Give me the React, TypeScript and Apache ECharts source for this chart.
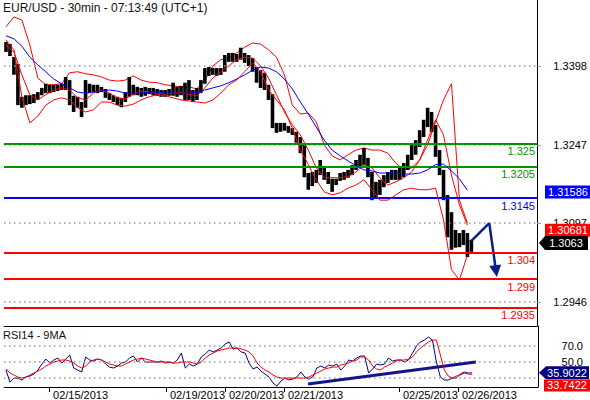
import React, { useEffect, useRef } from "react";
import * as echarts from "echarts";

// ---- price bars (30-min bars, grouped) ----
const opens = [1.3440,1.3433,1.3415,1.3398,1.3327,1.3333,1.3337,1.3333,1.3339,1.3342,
1.3348,1.3356,1.3354,1.3356,1.3358,1.3360,1.3364,1.3333,1.3325,1.3327,
1.3318,1.3356,1.3354,1.3356,1.3352,1.3354,1.3342,1.3339,1.3335,1.3333,
1.3331,1.3342,1.3356,1.3352,1.3350,1.3348,1.3348,1.3350,1.3348,1.3346,
1.3344,1.3346,1.3348,1.3350,1.3348,1.3352,1.3342,1.3341,1.3337,1.3346,
1.3364,1.3387,1.3388,1.3387,1.3388,1.3387,1.3413,1.3415,1.3413,1.3415,
1.3419,1.3413,1.3406,1.3394,1.3375,1.3367,1.3362,1.3342,1.3285,1.3279,
1.3281,1.3279,1.3275,1.3270,1.3256,1.3243,1.3189,1.3174,1.3184,1.3189,
1.3207,1.3195,1.3180,1.3170,1.3180,1.3186,1.3187,1.3191,1.3199,1.3210,
1.3218,1.3222,1.3195,1.3164,1.3161,1.3168,1.3180,1.3186,1.3187,1.3189,
1.3195,1.3203,1.3218,1.3237,1.3247,1.3266,1.3285,1.3304,1.3285,1.3237,
1.3199,1.3151,1.3084,1.3065,1.3073,1.3069,1.3076,1.3046];
const closes = [1.3433,1.3429,1.3398,1.3327,1.3333,1.3337,1.3333,1.3339,1.3342,1.3348,
1.3356,1.3354,1.3356,1.3358,1.3360,1.3364,1.3333,1.3325,1.3327,1.3318,
1.3356,1.3354,1.3356,1.3352,1.3354,1.3342,1.3339,1.3335,1.3333,1.3331,
1.3342,1.3356,1.3352,1.3350,1.3348,1.3348,1.3350,1.3348,1.3346,1.3344,
1.3346,1.3348,1.3350,1.3348,1.3352,1.3342,1.3341,1.3337,1.3346,1.3364,
1.3387,1.3388,1.3387,1.3388,1.3387,1.3413,1.3415,1.3413,1.3415,1.3419,
1.3413,1.3406,1.3394,1.3375,1.3367,1.3362,1.3342,1.3285,1.3279,1.3281,
1.3279,1.3275,1.3270,1.3256,1.3243,1.3189,1.3174,1.3184,1.3189,1.3207,
1.3195,1.3180,1.3170,1.3180,1.3186,1.3187,1.3191,1.3199,1.3210,1.3218,
1.3222,1.3195,1.3164,1.3161,1.3168,1.3180,1.3186,1.3187,1.3189,1.3195,
1.3203,1.3218,1.3237,1.3247,1.3266,1.3285,1.3304,1.3285,1.3237,1.3199,
1.3151,1.3084,1.3065,1.3073,1.3069,1.3076,1.3046,1.3063];
const lows = [1.3425,1.3417,1.3381,1.3323,1.3318,1.3323,1.3325,1.3327,1.3333,1.3342,
1.3346,1.3346,1.3348,1.3350,1.3352,1.3352,1.3323,1.3310,1.3318,1.3300,
1.3318,1.3346,1.3348,1.3346,1.3348,1.3337,1.3333,1.3329,1.3323,1.3319,
1.3329,1.3339,1.3342,1.3342,1.3339,1.3341,1.3344,1.3342,1.3341,1.3339,
1.3339,1.3341,1.3341,1.3339,1.3342,1.3333,1.3333,1.3329,1.3333,1.3346,
1.3364,1.3379,1.3381,1.3379,1.3381,1.3387,1.3406,1.3406,1.3406,1.3410,
1.3404,1.3398,1.3387,1.3366,1.3356,1.3352,1.3333,1.3279,1.3270,1.3272,
1.3274,1.3270,1.3266,1.3251,1.3231,1.3185,1.3161,1.3168,1.3174,1.3189,
1.3180,1.3172,1.3157,1.3170,1.3178,1.3180,1.3184,1.3189,1.3199,1.3205,
1.3208,1.3185,1.3141,1.3147,1.3151,1.3166,1.3174,1.3180,1.3180,1.3180,
1.3185,1.3199,1.3218,1.3228,1.3243,1.3262,1.3281,1.3272,1.3224,1.3189,
1.3141,1.3070,1.3046,1.3050,1.3051,1.3055,1.3032,1.3042];
const highs = [1.3444,1.3440,1.3415,1.3402,1.3339,1.3342,1.3342,1.3344,1.3348,1.3356,
1.3364,1.3362,1.3362,1.3362,1.3364,1.3377,1.3371,1.3341,1.3339,1.3329,
1.3371,1.3364,1.3362,1.3362,1.3358,1.3354,1.3346,1.3342,1.3339,1.3337,
1.3348,1.3377,1.3362,1.3358,1.3356,1.3358,1.3356,1.3356,1.3354,1.3352,
1.3352,1.3354,1.3366,1.3358,1.3360,1.3366,1.3371,1.3352,1.3356,1.3371,
1.3394,1.3396,1.3394,1.3394,1.3394,1.3419,1.3423,1.3423,1.3421,1.3433,
1.3423,1.3419,1.3413,1.3396,1.3390,1.3385,1.3362,1.3344,1.3289,1.3289,
1.3289,1.3283,1.3279,1.3272,1.3262,1.3247,1.3193,1.3195,1.3199,1.3218,
1.3205,1.3195,1.3182,1.3182,1.3193,1.3195,1.3199,1.3208,1.3218,1.3228,
1.3241,1.3222,1.3195,1.3176,1.3180,1.3189,1.3195,1.3199,1.3199,1.3205,
1.3212,1.3228,1.3247,1.3256,1.3275,1.3295,1.3318,1.3310,1.3285,1.3237,
1.3199,1.3151,1.3118,1.3084,1.3078,1.3084,1.3078,1.3065];

// ---- indicators, sampled every 2nd bar ----
const bandStep = 2;
const maLine = [1.3456,1.3450,1.3436,1.3415,1.3400,1.3387,1.3373,1.3364,1.3356,1.3348,
1.3346,1.3348,1.3350,1.3352,1.3350,1.3346,1.3346,1.3346,1.3348,1.3348,
1.3346,1.3346,1.3346,1.3346,1.3348,1.3352,1.3356,1.3360,1.3366,1.3373,
1.3381,1.3390,1.3396,1.3394,1.3387,1.3373,1.3354,1.3329,1.3306,1.3281,
1.3256,1.3237,1.3226,1.3216,1.3207,1.3199,1.3197,1.3193,1.3193,1.3193,
1.3191,1.3191,1.3193,1.3199,1.3209,1.3210,1.3197,1.3182,1.3160];
const upperBand = [1.3473,1.3492,1.3486,1.3438,1.3375,1.3362,1.3362,1.3364,1.3385,1.3387,
1.3383,1.3381,1.3377,1.3371,1.3369,1.3371,1.3379,1.3371,1.3367,1.3366,
1.3362,1.3360,1.3358,1.3358,1.3354,1.3371,1.3398,1.3410,1.3413,1.3423,
1.3434,1.3442,1.3440,1.3429,1.3415,1.3381,1.3323,1.3306,1.3308,1.3291,
1.3247,1.3226,1.3218,1.3228,1.3237,1.3241,1.3237,1.3237,1.3231,1.3212,
1.3199,1.3203,1.3218,1.3247,1.3291,1.3333,1.3364,1.3141,1.3097];
const middleBand = [1.3438,1.3425,1.3381,1.3343,1.3333,1.3343,1.3352,1.3356,1.3352,1.3337,
1.3333,1.3346,1.3352,1.3346,1.3337,1.3335,1.3344,1.3350,1.3348,1.3346,
1.3344,1.3346,1.3348,1.3344,1.3341,1.3356,1.3375,1.3387,1.3398,1.3410,
1.3415,1.3413,1.3398,1.3375,1.3343,1.3310,1.3285,1.3266,1.3237,1.3203,
1.3184,1.3184,1.3184,1.3186,1.3195,1.3209,1.3203,1.3184,1.3170,1.3176,
1.3184,1.3195,1.3218,1.3256,1.3295,1.3266,1.3189,1.3132,1.3093];
const lowerBand = [1.3448,1.3429,1.3339,1.3289,1.3302,1.3323,1.3333,1.3337,1.3333,1.3318,
1.3310,1.3314,1.3329,1.3329,1.3323,1.3321,1.3325,1.3333,1.3339,1.3343,
1.3341,1.3337,1.3333,1.3331,1.3329,1.3327,1.3333,1.3346,1.3362,1.3371,
1.3387,1.3404,1.3387,1.3352,1.3333,1.3314,1.3279,1.3237,1.3209,1.3180,
1.3157,1.3151,1.3155,1.3164,1.3170,1.3180,1.3161,1.3141,1.3141,1.3151,
1.3161,1.3164,1.3161,1.3161,1.3164,1.3103,1.3008,1.2988,1.3036];

// ---- RSI14 and its 9MA ----
const rsi = [39.4,24,29,29.2,26.7,30.5,31.8,34.3,39.4,47,
53.4,48.3,52.2,54.7,48.3,53.4,58.5,42,39.4,36.9,
56,52.2,50.9,53.4,52.2,47,43.2,42,44.5,48.3,
49.6,54.7,57.3,49.6,54.7,49.6,49.6,49.6,49.6,50.9,
48.3,49.6,48.3,52.2,61.1,42,47,44.5,47,56,
59.8,64.9,62.4,64.9,67.5,72.5,75.1,66.2,67.5,62.4,
61.1,48.3,40.7,43.2,38.1,34.3,30.5,22.9,19,25.4,
29.2,26.7,28,30.5,36.9,30.5,28,30.5,42,44.5,
42,45.8,44.5,47,39.4,44.5,52.2,50.9,54.7,57.3,
57.3,35.6,40.7,47,45.8,47,54.7,50.9,52.2,52.2,
49.6,52.2,61.1,70,75.1,77.6,81.5,77.6,49.6,30.5,
26.7,26.7,29.2,29.2,34.3,36.9,35.6,35.9022];
const rsiMa = [40.7,35.6,33,30.5,29.2,30.5,33,35.6,38.1,40.7,
44.5,47,49.6,50.9,52.2,52.2,50.9,48.3,44.5,42,
44.5,49.6,52.2,53.4,52.2,49.6,47,45.8,44.5,44.5,
47,49.6,52.2,53.4,54.7,53.4,52.2,50.9,49.6,49.6,
49.6,49.6,48.3,48.3,49.6,49.6,49.6,48.3,47,49.6,
54.7,58.5,61.1,63.6,64.9,66.2,67.5,67.5,67.5,66.2,
64.9,62.4,57.3,48.3,43.2,39.4,36.9,33,30.5,29.2,
29.2,29.2,29.2,29.2,29.2,29.2,30.5,33,35.6,38.1,
40.7,42,43.2,43.2,45.8,47,48.3,50.9,52.2,56,
56,52.2,44.5,40.7,39.4,43.2,45.8,48.3,50.9,52.2,
52.2,53.4,56,62.4,67.5,71.3,75.1,77.6,77.6,58.5,
39.4,31.8,29.2,31.8,33,35.6,34.3,33.7422];

// ---- axes / annotations ----
const priceTicks = [1.2946, 1.3097, 1.3247, 1.3398];
const rsiLabelTicks = [50, 70];
const rsiGridLevels = [30, 50, 70];
const datePos = [10.8, 40.15, 54.95, 69.75, 98.6, 113.4];
const dateLabels = ["02/15/2013", "02/19/2013", "02/20/2013", "02/21/2013", "02/25/2013", "02/26/2013"];
const levels = [1.325, 1.3205, 1.3145, 1.304, 1.299, 1.2935];
const levelColors = ["#009600", "#009600", "#0000ff", "#ff0000", "#ff0000", "#ff0000"];
const arrowPts = [[117, 1.3063], [121.5, 1.3097], [123.2, 1.3005]];
const rsiTrend = [[75.8, 21.6], [117.9, 49.6]];
const tagMa = 1.31586;
const tagRed = 1.30681;
const tagLast = 1.3063;

const FONT = "Liberation Sans, Arial, sans-serif";

export default function App() {
  const ref = useRef<HTMLDivElement>(null);
  useEffect(() => {
    if (!ref.current) return;
    const chart = echarts.init(ref.current, undefined, { renderer: "svg" });
    const ohlc = opens.map((o, i) => [i, o, closes[i], lows[i], highs[i]]);
    const pair = (arr: number[]) => arr.map((v, k) => [k * bandStep, v]);
    const dateFmt = (v: number) => {
      const k = datePos.findIndex((p) => Math.abs(p - v) < 0.01);
      return k >= 0 ? dateLabels[k] : "";
    };
    const dotted = { color: "#9a9a9a", type: [1.5, 3.5], width: 1.5 };
    const option: any = {
      animation: false,
      backgroundColor: "#fff",
      textStyle: { fontFamily: FONT },
      title: [
        { text: "EUR/USD - 30min - 07:13:49 (UTC+1)", left: 3, top: 2, padding: 0,
          textStyle: { fontSize: 12, fontWeight: "normal", color: "#111", fontFamily: FONT } },
        { text: "RSI14 - 9MA", left: 3, top: 329, padding: 0,
          textStyle: { fontSize: 11, fontWeight: "normal", color: "#111", fontFamily: FONT } },
      ],
      grid: [
        { left: 4, top: 0, width: 534, height: 326 },
        { left: 4, top: 326, width: 534, height: 61 },
      ],
      xAxis: [
        { gridIndex: 0, type: "value", min: -0.5, max: 133.5,
          axisLine: { show: true, onZero: false, lineStyle: { color: "#000", width: 1 } },
          axisTick: { show: false }, axisLabel: { show: false }, splitLine: { show: false } },
        { gridIndex: 1, type: "value", min: -0.5, max: 133.5,
          axisLine: { show: true, onZero: false, lineStyle: { color: "#000", width: 1 } },
          axisTick: { show: true, customValues: datePos, length: 5, lineStyle: { color: "#000" } },
          axisLabel: { customValues: datePos, formatter: dateFmt, align: "left", margin: 2,
            padding: [0, 0, 0, 4], fontSize: 11, color: "#000", fontFamily: FONT },
          splitLine: { show: false } },
      ],
      yAxis: [
        { gridIndex: 0, type: "value", position: "right", min: 1.29, max: 1.35244,
          axisLine: { show: true, onZero: false, lineStyle: { color: "#000", width: 1 } },
          axisTick: { show: true, customValues: priceTicks, length: 4, lineStyle: { color: "#999" } },
          axisLabel: { customValues: priceTicks, formatter: (v: number) => v.toFixed(4),
            align: "right", margin: 50, fontSize: 11, color: "#000", fontFamily: FONT },
          splitLine: { show: false } },
        { gridIndex: 1, type: "value", position: "right", min: 17.8, max: 95.5,
          axisLine: { show: true, onZero: false, lineStyle: { color: "#000", width: 1 } },
          axisTick: { show: false },
          axisLabel: { customValues: rsiLabelTicks, formatter: (v: number) => v.toFixed(1),
            align: "right", margin: 45, fontSize: 11, color: "#000", fontFamily: FONT },
          splitLine: { show: false } },
      ],
      series: [
        { type: "line", xAxisIndex: 0, yAxisIndex: 0, data: pair(upperBand), symbol: "none", z: 2,
          lineStyle: { color: "#ff0000", width: 1 },
          markLine: { silent: true, precision: 6, symbol: ["none", "none"], label: { show: false },
            data: priceTicks.map((v) => ({ yAxis: v, lineStyle: dotted })) } },
        { type: "custom", xAxisIndex: 0, yAxisIndex: 0, z: 3,
          dimensions: ["x", "open", "close", "low", "high"],
          encode: { x: 0, y: [1, 2, 3, 4] },
          data: ohlc,
          renderItem: (params: any, api: any) => {
            const x = api.value(0);
            const pH = api.coord([x, api.value(4)]);
            const pL = api.coord([x, api.value(3)]);
            return {
              type: "rect",
              shape: { x: pH[0] - 1.8, y: pH[1], width: 3.6, height: Math.max(1, pL[1] - pH[1]) },
              style: { fill: "#000" },
            };
          } },
        { type: "line", xAxisIndex: 0, yAxisIndex: 0, data: pair(middleBand), symbol: "none", z: 4,
          lineStyle: { color: "#ff0000", width: 1 } },
        { type: "line", xAxisIndex: 0, yAxisIndex: 0, data: pair(lowerBand), symbol: "none", z: 6,
          lineStyle: { color: "#ff0000", width: 1 },
          markLine: { silent: true, precision: 6, symbol: ["none", "triangle"], symbolSize: 12, label: { show: false },
            lineStyle: { color: "#0a1f8f", width: 2.5, type: "solid" },
            data: [
              [{ coord: arrowPts[0], symbol: "none" }, { coord: arrowPts[1], symbol: "none" }],
              [{ coord: arrowPts[1] }, { coord: arrowPts[2] }],
            ] } },
        { type: "line", xAxisIndex: 0, yAxisIndex: 0, data: pair(maLine), symbol: "none", z: 5,
          lineStyle: { color: "#0000ff", width: 1 },
          markLine: { silent: true, precision: 6, symbol: ["none", "none"],
            data: levels.map((v, k) => ({
              yAxis: v,
              lineStyle: { color: levelColors[k], width: 2, type: "solid" },
              label: { show: true, position: "insideEndBottom", formatter: String(v), color: levelColors[k],
                fontSize: 11, fontFamily: FONT, distance: [2, 2] },
            })) } },
        { type: "line", xAxisIndex: 1, yAxisIndex: 1, data: rsi.map((v, i) => [i, v]), symbol: "none", z: 4,
          lineStyle: { color: "#000080", width: 1 },
          markLine: { silent: true, precision: 6, symbol: ["none", "none"], label: { show: false },
            data: rsiGridLevels.map((v) => ({ yAxis: v, lineStyle: dotted })) } },
        { type: "line", xAxisIndex: 1, yAxisIndex: 1, data: rsiMa.map((v, i) => [i, v]), symbol: "none", z: 5,
          lineStyle: { color: "#ff0000", width: 1 },
          markLine: { silent: true, precision: 6, symbol: ["none", "none"], label: { show: false },
            lineStyle: { color: "#14148c", width: 3, type: "solid" },
            data: [[{ coord: rsiTrend[0] }, { coord: rsiTrend[1] }]] } },
      ],
    };
    chart.setOption(option);

    const py = (v: number) => chart.convertToPixel({ yAxisIndex: 0 }, v) as number;
    const ry = (v: number) => chart.convertToPixel({ yAxisIndex: 1 }, v) as number;
    const txt = (t: string, x: number, y: number, fill = "#fff") => ({
      type: "text", z: 100,
      style: { text: t, x, y, align: "center", verticalAlign: "middle", fill, font: `11px ${FONT}` },
    });
    const yMa = py(tagMa) + 1;
    const yRed = py(tagRed) - 8;
    const yLast = py(tagLast) + 2;
    const yRsi = ry(rsi[rsi.length - 1]);
    const yRsiMa = ry(rsiMa[rsiMa.length - 1]) + 11;
    chart.setOption({
      graphic: [
        { type: "rect", z: 99, shape: { x: 545, y: yMa - 6.5, width: 45, height: 13 }, style: { fill: "#0000ff" } },
        txt(tagMa.toFixed(5), 568, yMa),
        { type: "rect", z: 99, shape: { x: 545, y: yRed - 6.5, width: 45, height: 13 }, style: { fill: "#ff0000" } },
        txt(tagRed.toFixed(5), 568, yRed),
        { type: "polygon", z: 99, shape: { points: [[539, yLast], [545, yLast - 7], [588, yLast - 7], [588, yLast + 7], [545, yLast + 7]] },
          style: { fill: "#000" } },
        txt(tagLast.toFixed(4), 566, yLast),
        { type: "polygon", z: 99, shape: { points: [[539, yRsi], [546, yRsi - 6.5], [589, yRsi - 6.5], [589, yRsi + 6.5], [546, yRsi + 6.5]] },
          style: { fill: "#000080" } },
        txt(rsi[rsi.length - 1].toFixed(4), 567, yRsi),
        { type: "rect", z: 99, shape: { x: 544, y: yRsiMa - 6, width: 46, height: 12 }, style: { fill: "#ff0000" } },
        txt(rsiMa[rsiMa.length - 1].toFixed(4), 567, yRsiMa),
      ],
    });
    return () => chart.dispose();
  }, []);
  return (
    <div
      ref={ref}
      style={{ position: "fixed", left: 0, top: 0, width: 590, height: 400, background: "#fff" }}
    />
  );
}
